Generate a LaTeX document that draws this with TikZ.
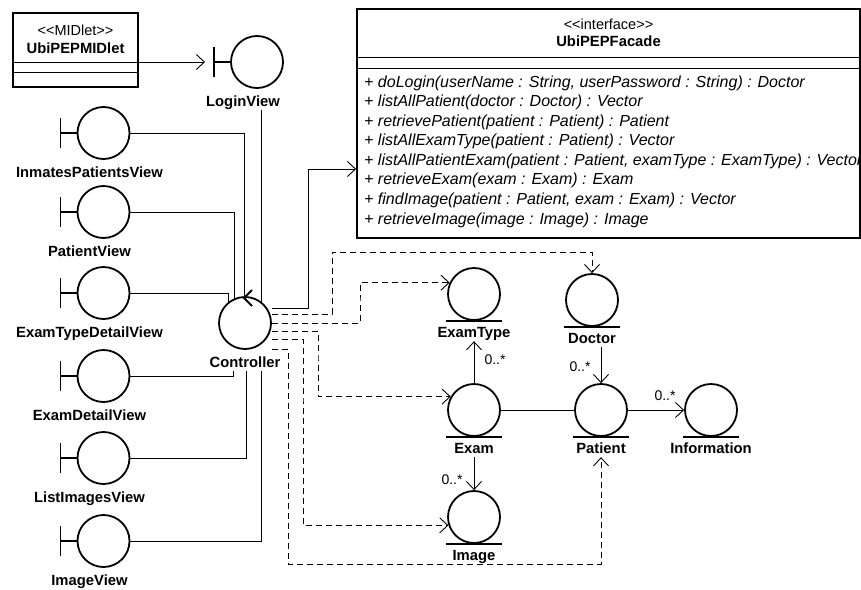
\documentclass[tikz,border=0pt]{standalone}
\usepackage{fontspec}
\setmainfont{Liberation Sans}
\usetikzlibrary{arrows.meta,calc}

\tikzset{
  x=1pt, y=-1pt,
  icon/.style={line width=1.8pt},
  conn/.style={line width=0.9pt},
  dep/.style={conn, dash pattern=on 6pt off 4pt},
  arr/.style={-{Straight Barb[length=8pt,width=15pt]}},
  ring/.style={circle, draw, icon, minimum size=52pt, inner sep=0pt},
  lbl/.style={font=\bfseries\fontsize{14.8}{16}\selectfont, inner sep=1pt, text height=11pt, text depth=3pt},
  stereo/.style={font=\fontsize{14.5}{16}\selectfont, inner sep=0pt},
  mult/.style={font=\fontsize{14}{15}\selectfont, inner sep=0pt},
  op/.style={font=\itshape\fontsize{16}{18}\selectfont, inner sep=0pt, anchor=west},
  classbox/.style={draw, line width=1.8pt, inner sep=0pt},
  % boundary: bar + circle
  pics/boundary/.style={code={
    \node[ring] (-c) at (0,0) {};
    \coordinate (-b) at (-43,0);
    \draw[icon] (-c.west) -- (-b);
    \draw[icon] (-43,-15) -- (-43,15);
    \node[lbl] (-l) at (-14,40) {#1};
  }},
  % entity: circle on a base line
  pics/entity/.style={code={
    \node[ring] (-c) at (0,0) {};
    \draw[icon] (-28,27) -- (28,27);
    \node[lbl] (-l) at (0,39) {#1};
  }},
  % control: circle with an arrowhead on top
  pics/control/.style={code={
    \node[ring] (-c) at (0,0) {};
    \draw[icon] (7,-33) -- (-1,-25) -- (7,-17);
    \node[lbl] (-l) at (0,40) {#1};
  }},
}

\begin{document}
\begin{tikzpicture}
\useasboundingbox (0,0) rectangle (861,589);

% MIDlet class
\node[classbox, minimum width=125pt, minimum height=74pt] (mid) at (75.5,50) {};
\node[stereo] at (75.5,30) {<\kern0pt<MIDlet>\kern0pt>};
\node[lbl] at (75.5,49) {UbiPEPMIDlet};
\draw[conn] (mid.west |- 0,62) -- (mid.east |- 0,62);
\draw[conn] (mid.west |- 0,72) -- (mid.east |- 0,72);

% facade interface
\node[classbox, minimum width=503pt, minimum height=229pt] (fac) at (608.5,123.5) {};
\node[stereo] at (608.5,24) {<\kern0pt<interface>\kern0pt>};
\node[lbl] at (608.5,42) {UbiPEPFacade};
\draw[conn] (fac.west |- 0,57) -- (fac.east |- 0,57);
\draw[conn] (fac.west |- 0,68) -- (fac.east |- 0,68);
\foreach [count=\i from 0] \t in {
  {+ doLogin(userName : String, userPassword : String) : Doctor},
  {+ listAllPatient(doctor : Doctor) : Vector},
  {+ retrievePatient(patient : Patient) : Patient},
  {+ listAllExamType(patient : Patient) : Vector},
  {+ listAllPatientExam(patient : Patient, examType : ExamType) : Vector},
  {+ retrieveExam(exam : Exam) : Exam},
  {+ findImage(patient : Patient, exam : Exam) : Vector},
  {+ retrieveImage(image : Image) : Image}}
  \node[op] at ({364},{83+19.57*\i}) {\t};

% boundaries
\pic (lv)  at (257,62)    {boundary=LoginView};
\pic (iv)  at (103.5,133) {boundary=InmatesPatientsView};
\pic (pv)  at (103.5,212) {boundary=PatientView};
\pic (etv) at (103.5,293) {boundary=ExamTypeDetailView};
\pic (edv) at (103.5,376) {boundary=ExamDetailView};
\pic (liv) at (103.5,458) {boundary=ListImagesView};
\pic (imv) at (103.5,541) {boundary=ImageView};

% control
\pic (ctl) at (245,323) {control=Controller};

% entities
\pic (ext) at (474,294) {entity=ExamType};
\pic (doc) at (592,300) {entity=Doctor};
\pic (exm) at (474,410) {entity=Exam};
\pic (pat) at (601,410) {entity=Patient};
\pic (inf) at (711,410) {entity=Information};
\pic (img) at (474,517) {entity=Image};

% MIDlet to login view
\draw[conn,arr] (mid.east |- lv-c) -- ([xshift=-9pt]lv-b);

% views to controller
\draw[conn] (lv-l.south -| ctl-c.52) -- (ctl-c.52);
\draw[conn] (iv-c.east) -| (ctl-c.92);
\draw[conn] (pv-c.east) -| (ctl-c.113);
\draw[conn] (etv-c.east) -| (ctl-c.128);
\draw[conn] (edv-c.east) -| ([xshift=-12pt]ctl-l.south);
\draw[conn] (liv-c.east) -| ([xshift=1pt]ctl-l.south);
\draw[conn] (imv-c.east) -| ([xshift=16pt]ctl-l.south);

% controller to facade
\draw[conn,arr] ([yshift=15pt]ctl-c.east) -| (308,169) -- (fac.west |- 0,169);

% controller dependencies
\draw[dep,arr] ([yshift=9pt]ctl-c.east) -| (332,252) -| (doc-c.north);
\draw[dep,arr] (ctl-c.east) -| (360,300) |- (ext-c.155);
\draw[dep,arr] ([yshift=-8pt]ctl-c.east) -| (318,360) |- (exm-c.150);
\draw[dep,arr] ([yshift=-16pt]ctl-c.east) -| (303,400) |- (img-c.198);
\draw[dep,arr] ([yshift=-26pt]ctl-c.east) -| (288,564) -| (pat-l.south);

% associations between entities
\draw[conn,arr] (exm-c.north) -- (ext-l.south);
\node[mult] at (495,360) {0..*};
\draw[conn,arr] (doc-l.south -| pat-c.north) -- (pat-c.north);
\node[mult] at (580,367) {0..*};
\draw[conn,arr] (pat-c.east) -- (inf-c.west);
\node[mult] at (665,396) {0..*};
\draw[conn,arr] (exm-l.south) -- (img-c.north);
\node[mult] at (452,480) {0..*};
\draw[conn] (exm-c.east) -- (pat-c.west);
\end{tikzpicture}
\end{document}
